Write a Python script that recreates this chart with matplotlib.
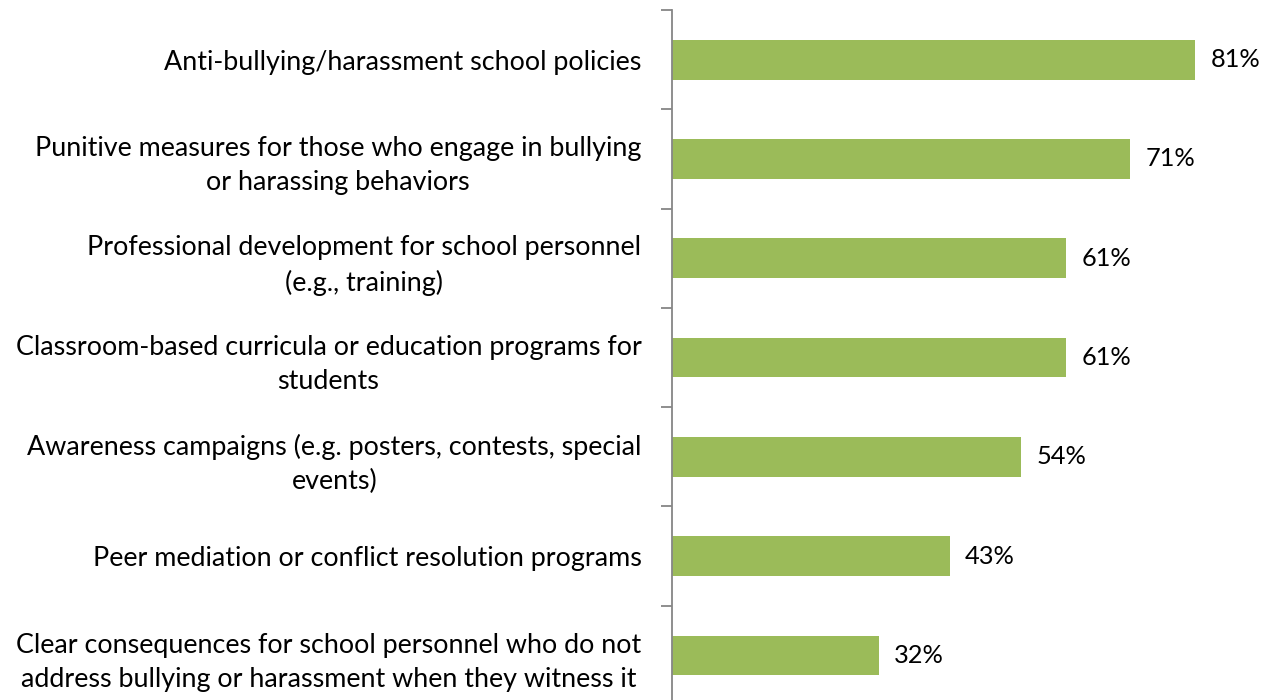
import matplotlib
matplotlib.use("Agg")
import matplotlib.pyplot as plt
import numpy as np

categories = [
    "Anti-bullying/harassment school policies",
    "Punitive measures for those who engage in bullying\nor harassing behaviors",
    "Professional development for school personnel\n(e.g., training)",
    "Classroom-based curricula or education programs for\nstudents",
    "Awareness campaigns (e.g. posters, contests, special\nevents)",
    "Peer mediation or conflict resolution programs",
    "Clear consequences for school personnel who do not\naddress bullying or harassment when they witness it",
]
values = [81, 71, 61, 61, 54, 43, 32]
value_labels = ["81%", "71%", "61%", "61%", "54%", "43%", "32%"]

W, H = 1273, 700
fig = plt.figure(figsize=(W / 100, H / 100), dpi=100)
xmax = 90
px_per = 6.457
left = 672
top = 10
bottom = 705
ax = fig.add_axes([left / W, 1 - bottom / H, xmax * px_per / W, (bottom - top) / H])

font = "Lato"
y = np.arange(len(categories))
ax.barh(y, values, height=0.4, color="#9BBB59", zorder=2)
ax.set_xlim(0, xmax)
ax.set_ylim(len(categories) - 0.5, -0.5)

for yi, v, lab in zip(y, values, value_labels):
    ax.text(v + 2.4, yi, lab, va="center", ha="left", fontsize=18.3, family=font, color="black")

ax.set_yticks(y)
ax.set_yticklabels(categories, fontsize=19.4, family=font, color="black", linespacing=1.45)
for t in ax.get_yticklabels():
    t.set_multialignment("center")
ax.tick_params(axis="y", which="major", length=0, pad=22)
ax.set_yticks(np.arange(-0.5, len(categories) + 0.5, 1.0), minor=True)
ax.tick_params(axis="y", which="minor", length=8, width=1.3, color="#868686", direction="out")
ax.set_xticks([])
for s in ["top", "right", "bottom"]:
    ax.spines[s].set_visible(False)
ax.spines["left"].set_color("#868686")
ax.spines["left"].set_linewidth(1.3)

fig.savefig("out.png", dpi=100, facecolor="white")
